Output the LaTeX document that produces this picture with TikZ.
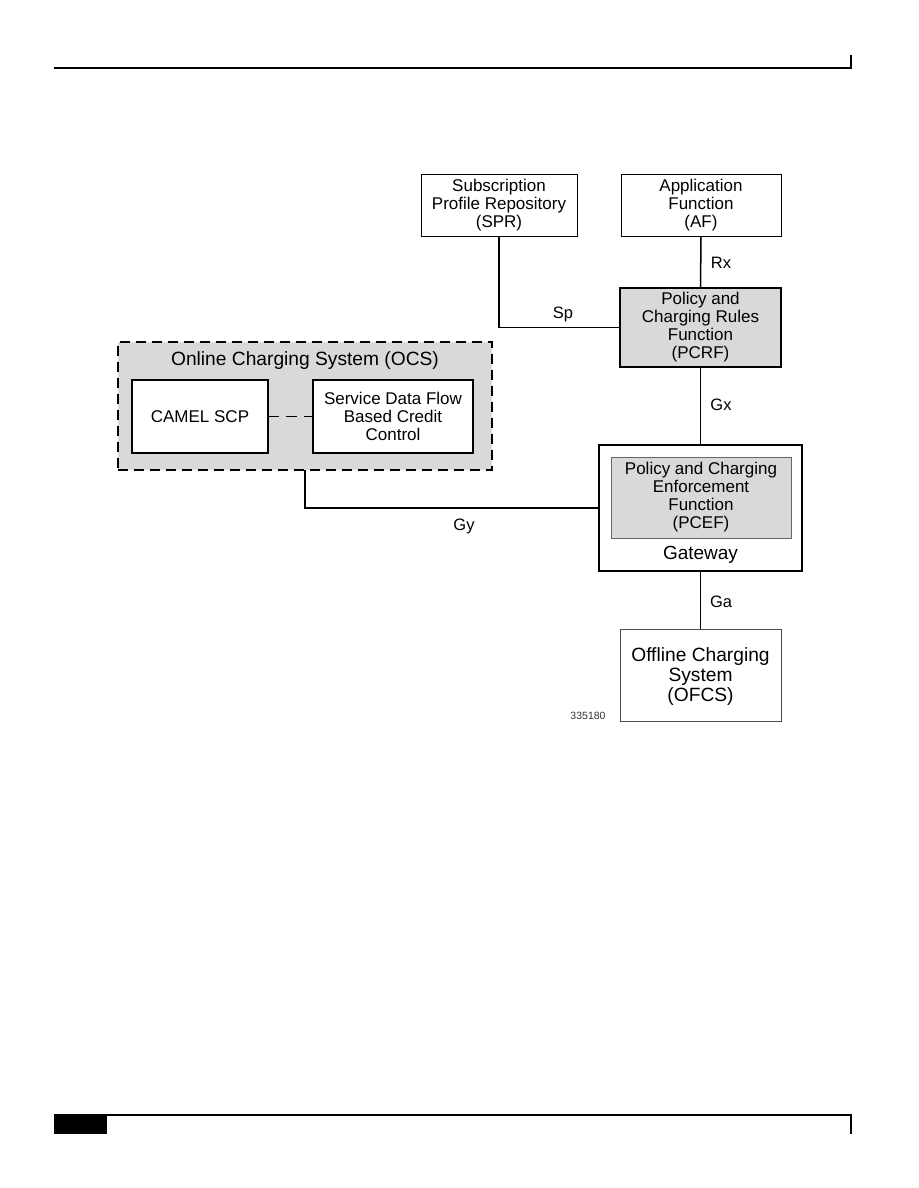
\documentclass[tikz,border=0pt]{standalone}
\usepackage{fontspec}
\setmainfont{Liberation Sans}
\begin{document}
\begin{tikzpicture}[x=1pt,y=-1pt,
  box/.style={draw=black,line width=1pt,fill=white,inner sep=0pt,outer sep=0pt,align=center,
    font=\fontsize{17}{18}\selectfont},
  graybox/.style={box,fill=black!15},
  conn/.style={draw=black,line width=1.5pt},
  lbl/.style={inner sep=0pt,font=\fontsize{16.5}{18}\selectfont}]
\useasboundingbox (0,0) rectangle (918,1188);
% page header and footer
\draw[line width=1.3pt] (54,68) -- (851,68) -- (851,55);
\draw[line width=1.5pt] (54,1115) -- (851,1115) -- (851,1134);
\fill[black] (54,1115) rectangle (107,1134);
% boxes
\node[box,minimum width=156pt,minimum height=62pt] (spr) at (499,205) {Subscription\\Profile Repository\\(SPR)};
\node[box,minimum width=160pt,minimum height=62pt] (af) at (701,205) {Application\\Function\\(AF)};
\node[graybox,line width=1.6pt,minimum width=161pt,minimum height=79pt] (pcrf) at (700.5,327.5) {Policy and\\Charging Rules\\Function\\(PCRF)};
\node[box,fill=black!15,dash pattern=on 10pt off 6pt,line width=1.3pt,minimum width=374pt,minimum height=128pt] (ocs) at (305,406) {};
\node[inner sep=0pt,font=\fontsize{19.2}{22}\selectfont] (ocstitle) at (305,361) {Online Charging System (OCS)};
\node[box,line width=1.3pt,minimum width=136pt,minimum height=73pt] (camel) at (200,416.5) {CAMEL SCP};
\node[box,line width=1.3pt,minimum width=160pt,minimum height=73pt] (sdf) at (393,416.5) {Service Data Flow\\Based Credit\\Control};
\node[box,line width=1.3pt,minimum width=203pt,minimum height=126pt] (gw) at (700.5,508) {};
\node[graybox,draw=black!60,minimum width=180pt,minimum height=81pt] (pcef) at (701,497.5) {Policy and Charging\\Enforcement\\Function\\(PCEF)};
\node[inner sep=0pt,font=\fontsize{19}{22}\selectfont] (gwlabel) at (700.5,555) {Gateway};
\node[box,draw=black!70,minimum width=161pt,minimum height=92pt] (ofcs) at (700.5,675) {};
\node[inner sep=0pt,align=center,font=\fontsize{19.2}{20}\selectfont] (ofcstext) at (700.5,677) {Offline Charging\\System\\(OFCS)};
\node[inner sep=0pt,font=\fontsize{10.5}{12}\selectfont,text=black!80] (fig) at (588,716) {335180};
% connectors
\draw[conn,line width=1.3pt] (spr.south) |- (pcrf.west);
\draw[conn] (af.south) -- (pcrf.north);
\draw[conn] (pcrf.south) -- (gw.north);
\draw[conn,line width=1.3pt] (ocs.south) |- (gw.west);
\draw[conn] (gw.south) -- (ofcs.north);
\draw[line width=1.3pt,dash pattern=on 11pt off 7pt] (camel.east) -- (sdf.west);
% connector labels
\node[lbl] (sp) at (563,314) {Sp};
\node[lbl] (rx) at (721,263) {Rx};
\node[lbl] (gx) at (721,405) {Gx};
\node[lbl] (gy) at (464,526) {Gy};
\node[lbl] (ga) at (721,602) {Ga};
\end{tikzpicture}
\end{document}
